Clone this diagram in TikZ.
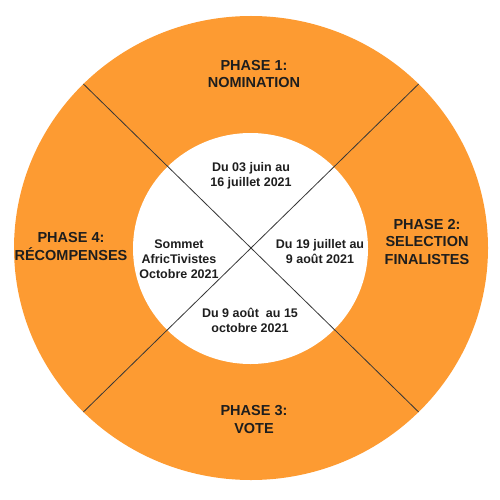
\documentclass[tikz,border=0pt]{standalone}
\usepackage{fontspec}
\setmainfont{Liberation Sans}
\definecolor{ringorange}{RGB}{253,155,50}
\definecolor{linegray}{RGB}{55,55,55}
\definecolor{txt}{RGB}{30,30,30}
\begin{document}
\begin{tikzpicture}[x=1pt,y=-1pt,
  phase/.style={font=\fontsize{14.5}{17.5}\selectfont\bfseries, align=center, text=txt, inner sep=0pt},
  datebox/.style={font=\fontsize{12.5}{15}\selectfont\bfseries, align=center, text=txt, inner sep=0pt},
  divider/.style={draw=linegray, line width=0.8pt}]
\useasboundingbox (0,0) rectangle (500,500);
\fill[ringorange] (251,248) ellipse [x radius=237, y radius=232];
\fill[white] (250.5,248.5) ellipse [x radius=117.5, y radius=115.5];
\coordinate (nw) at (83.4,84);
\coordinate (ne) at (418.6,84);
\coordinate (sw) at (83.4,412);
\coordinate (se) at (418.6,412);
\draw[divider] (nw) -- (se);
\draw[divider] (ne) -- (sw);
\node[phase] (p1) at (254,74) {PHASE 1:\\NOMINATION};
\node[phase] (p2) at (427,242) {PHASE 2:\\SELECTION\\FINALISTES};
\node[phase] (p3) at (254,419.5) {PHASE 3:\\VOTE};
\node[phase] (p4) at (71,246.5) {PHASE 4:\\RÉCOMPENSES};
\node[datebox] (d1) at (251,175.5) {Du 03 juin au\\16 juillet 2021};
\node[datebox] (d2) at (320,251.5) {Du 19 juillet au\\9 août 2021};
\node[datebox] (d3) at (250,320.5) {Du 9 août\ \ au 15\\octobre 2021};
\node[datebox] (d4) at (179,259.5) {Sommet\\AfricTivistes\\Octobre 2021};
\end{tikzpicture}
\end{document}
